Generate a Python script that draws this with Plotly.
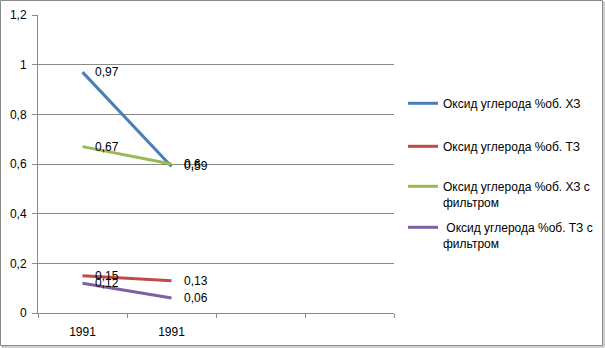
import plotly.graph_objects as go

categories = ["1991", "1991", "", ""]
series_names = [
    "Оксид углерода %об. ХЗ",
    "Оксид углерода %об. ТЗ",
    "Оксид углерода %об. ХЗ с<br>фильтром",
    " Оксид углерода %об. ТЗ с<br>фильтром",
]
values_hz = [0.97, 0.59]
values_tz = [0.15, 0.13]
values_hz_f = [0.67, 0.6]
values_tz_f = [0.12, 0.06]
colors = ["#4A7EBB", "#BE4B48", "#98B954", "#7D60A0"]
y_ticks = [0, 0.2, 0.4, 0.6, 0.8, 1, 1.2]

W, H = 605, 348
ML, MR, MT, MB = 38, 211, 15, 35
FONT = "Liberation Sans"
FS = 12

pw = W - ML - MR
ph = H - MT - MB
def px_x(p):
    return (p - ML) / pw
def px_y(p):
    return (H - MB - p) / ph

legend_ids = ["legend", "legend2", "legend3", "legend4"]
legend_sample_y = [103, 146, 186, 227]

fig = go.Figure()
all_vals = [values_hz, values_tz, values_hz_f, values_tz_f]
xs = list(range(len(values_hz)))
for i, (name, vals, col) in enumerate(zip(series_names, all_vals, colors)):
    fig.add_trace(go.Scatter(
        x=xs, y=vals, mode="lines", name=name,
        line=dict(color=col, width=3),
        legend=legend_ids[i],
    ))
    for x, v in zip(xs, vals):
        fig.add_annotation(x=x, y=v, text=str(v).replace(".", ","),
                           xanchor="left", yanchor="middle", xshift=10,
                           showarrow=False,
                           font=dict(family=FONT, size=FS, color="black"))

# outer chart border with shadow
fig.add_shape(type="rect", xref="paper", yref="paper",
              x0=px_x(2), x1=px_x(604), y0=px_y(347), y1=px_y(2),
              line=dict(color="#a0a0a0", width=1), fillcolor="rgba(0,0,0,0)", layer="below")
fig.add_shape(type="rect", xref="paper", yref="paper",
              x0=px_x(0.5), x1=px_x(602.5), y0=px_y(345.5), y1=px_y(0.5),
              line=dict(color="#8a8a8a", width=1), fillcolor="white", layer="below")

legend_layout = {}
for lid, sy in zip(legend_ids, legend_sample_y):
    legend_layout[lid] = dict(
        x=px_x(403), y=px_y(sy - 14), xanchor="left", yanchor="top",
        font=dict(family=FONT, size=FS, color="black"),
        valign="top", itemwidth=30,
        bgcolor="rgba(0,0,0,0)",
    )

fig.update_layout(
    width=W, height=H,
    margin=dict(l=ML, r=MR, t=MT, b=MB, autoexpand=False),
    paper_bgcolor="white", plot_bgcolor="white",
    separators=", ",
    font=dict(family=FONT, size=FS, color="black"),
    showlegend=True,
    **legend_layout,
)
fig.update_xaxes(
    range=[-0.5, 3.5],
    tickvals=list(range(len(categories))), ticktext=categories,
    ticks="", showgrid=False, zeroline=False,
    showline=True, linecolor="#8a8a8a", linewidth=1,
    ticklabelstandoff=8, automargin=False,
    minor=dict(tickvals=[-0.5, 0.5, 1.5, 2.5, 3.5], ticks="outside",
               ticklen=4, tickcolor="#8a8a8a", showgrid=False),
    tickfont=dict(family=FONT, size=FS, color="black"),
    fixedrange=True,
)
fig.update_yaxes(
    range=[0, 1.2], tickvals=y_ticks,
    showgrid=True, gridcolor="#8a8a8a", gridwidth=1,
    zeroline=False, showline=True, linecolor="#8a8a8a", linewidth=1,
    ticks="outside", ticklen=5, tickcolor="#8a8a8a",
    ticklabelstandoff=3, automargin=False,
    tickfont=dict(family=FONT, size=FS, color="black"),
    fixedrange=True,
)

fig.write_html("out.html", config={"displayModeBar": False},
               post_script="document.body.style.margin='0';document.body.style.overflow='hidden';")
